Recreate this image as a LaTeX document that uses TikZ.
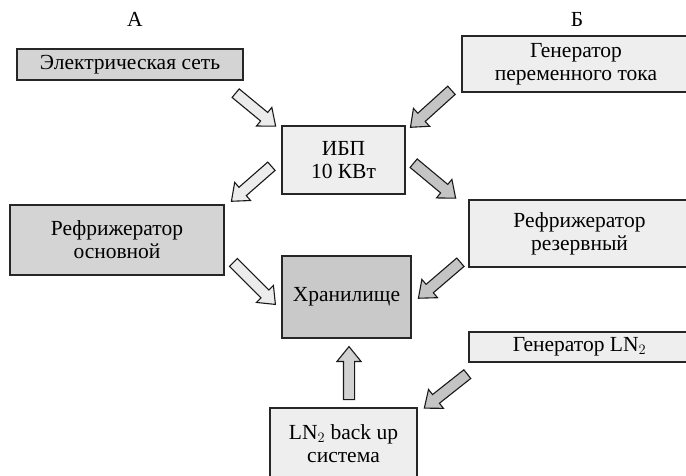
\documentclass[tikz,border=0pt]{standalone}
\usepackage{fontspec}
\setmainfont{Liberation Serif}
\usetikzlibrary{shapes.arrows,calc}

\definecolor{boxdark}{RGB}{212,212,212}
\definecolor{boxlight}{RGB}{238,238,238}
\definecolor{arrwhite}{RGB}{236,236,236}
\definecolor{arrmid}{RGB}{210,210,210}
\definecolor{arrgray}{RGB}{196,196,196}

\tikzset{
  unit/.style={draw=black!85, line width=1.2pt, inner sep=0pt, align=center,
    font=\fontsize{21.5}{23}\selectfont},
  unitdark/.style={unit, fill=boxdark},
  unitlight/.style={unit, fill=boxlight},
  blockarr/.style={shape=single arrow, draw=black!90, line width=1.1pt, inner xsep=0pt,
    inner ysep=5pt, single arrow head extend=6.5pt, single arrow tip angle=78},
  blockwhite/.style={blockarr, fill=arrwhite},
  blockgray/.style={blockarr, fill=arrgray}
}

% block arrow from #2 to #3
\newcommand{\flowarrow}[3]{%
  \path let \p1=($(#3)-(#2)$), \n1={atan2(\y1,\x1)}, \n2={veclen(\x1,\y1)} in
    node[#1, rotate=-\n1, minimum height=\n2] at ($(#2)!0.5!(#3)$) {};}

\begin{document}
\begin{tikzpicture}[x=1pt,y=1pt,yscale=-1,xscale=1]
\useasboundingbox (0,0) rectangle (686,475);
\clip (0,0) rectangle (686,475);

%Text: column labels
\node[font=\fontsize{21.5}{23}\selectfont] (colA) at (135,19) {А};
\node[font=\fontsize{21.5}{23}\selectfont] (colB) at (577,19) {Б};

%Shape: Rectangle (sources)
\node[unitdark, minimum width=226pt, minimum height=31pt] (grid) at (130,64.5) {Электрическая сеть};
\node[unitlight, minimum width=228pt, minimum height=56pt] (genac) at (576,64) {Генератор\\переменного тока};
%Shape: Rectangle (UPS)
\node[unitlight, minimum width=123pt, minimum height=68pt] (ups) at (343.5,160) {ИБП\\10 КВт};
%Shape: Rectangle (refrigerators)
\node[unitdark, minimum width=214pt, minimum height=70pt] (refmain) at (117,240) {Рефрижератор\\основной};
\node[unitlight, minimum width=221pt, minimum height=67pt] (refres) at (579.5,233.5) {Рефрижератор\\резервный};
%Shape: Rectangle (storage)
\node[unitdark, fill=boxdark!95!black, minimum width=129pt, minimum height=82pt] (store) at (346.5,297) {Хранилище};
%Shape: Rectangle (LN2)
\node[unitlight, minimum width=221pt, minimum height=30pt] (genln) at (579.5,347) {Генератор LN$_2$};
\node[unitlight, minimum width=147pt, minimum height=72pt] (backup) at (343.5,444) {LN$_2$ back up\\система};

%Straight Lines: arrow ends
\coordinate (a1s) at (233,91);  \coordinate (a1e) at (273,124);
\coordinate (a2s) at (274,164); \coordinate (a2e) at (234,199);
\coordinate (a3s) at (454,88);  \coordinate (a3e) at (413,125);
\coordinate (a4s) at (411,161); \coordinate (a4e) at (453,196);
\coordinate (a5s) at (231,260); \coordinate (a5e) at (273,302);
\coordinate (a6s) at (463,260); \coordinate (a6e) at (421,296);
\coordinate (a7s) at (349,403); \coordinate (a7e) at (349,350);
\coordinate (a8s) at (470,372); \coordinate (a8e) at (427,406);

\flowarrow{blockwhite}{a1s}{a1e}
\flowarrow{blockwhite}{a2s}{a2e}
\flowarrow{blockgray}{a3s}{a3e}
\flowarrow{blockgray}{a4s}{a4e}
\flowarrow{blockwhite}{a5s}{a5e}
\flowarrow{blockgray}{a6s}{a6e}
\flowarrow{blockarr, fill=arrmid}{a7s}{a7e}
\flowarrow{blockgray}{a8s}{a8e}
\end{tikzpicture}
\end{document}
